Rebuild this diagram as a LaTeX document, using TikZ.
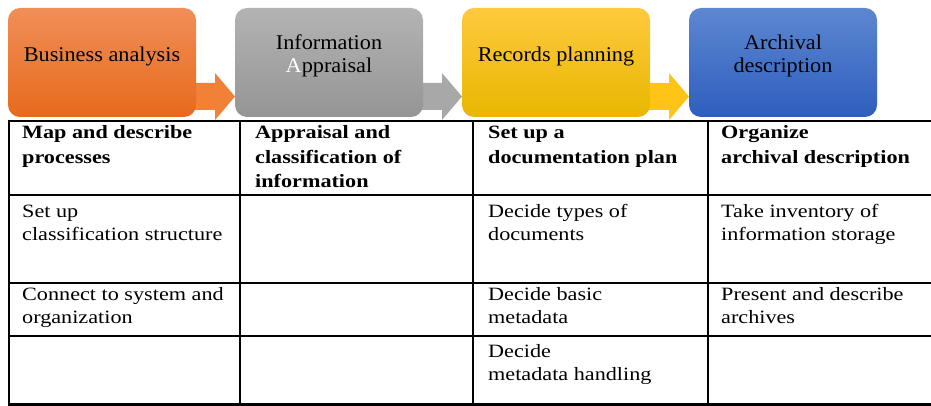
\documentclass[tikz,border=0pt]{standalone}
\usepackage{fontspec}
\setmainfont{Liberation Serif}[FakeStretch=1.18]
\newfontfamily\boxfont{Liberation Serif}[FakeStretch=1.06]
\usetikzlibrary{calc}
\definecolor{orA}{RGB}{241,142,88}
\definecolor{orB}{RGB}{230,106,28}
\definecolor{orArr}{RGB}{242,128,55}
\definecolor{grA}{RGB}{179,179,179}
\definecolor{grB}{RGB}{149,149,149}
\definecolor{grArr}{RGB}{168,168,168}
\definecolor{yeA}{RGB}{255,201,62}
\definecolor{yeB}{RGB}{232,183,0}
\definecolor{yeArr}{RGB}{255,196,22}
\definecolor{blA}{RGB}{93,135,208}
\definecolor{blB}{RGB}{46,94,190}
\newcommand\hcell[1]{\parbox[t]{215pt}{\raggedright\bfseries\fontsize{18.8}{24.5}\selectfont #1}}
\newcommand\bcell[1]{\parbox[t]{215pt}{\raggedright\fontsize{18.8}{23.2}\selectfont #1}}
\newcommand\stwo[1]{\parbox[t]{180pt}{\centering\boxfont\fontsize{21}{23}\selectfont #1}}
\tikzset{
  stage/.style={rounded corners=12pt, minimum width=188pt, minimum height=109pt, inner sep=0pt, draw=none},
  stagetext/.style={anchor=base, inner sep=0pt, font=\boxfont\fontsize{21}{23}\selectfont},
  cell/.style={anchor=base west, inner sep=0pt},
  grid/.style={line width=2.6pt, black},
}
\begin{document}
\begin{tikzpicture}[x=1pt,y=-1pt]
\useasboundingbox (0,0) rectangle (931,406);
% stage box centres
\path (102,62.5) coordinate (c1) (329,62.5) coordinate (c2) (556,62.5) coordinate (c3) (783,62.5) coordinate (c4);
% arrows (behind the boxes)
\foreach \a/\b/\col in {c1/c2/orArr, c2/c3/grArr, c3/c4/yeArr}{
  \fill[\col] ($(\a)+(88,20.5)$) -- ($(\b)+(-114,20.5)$) -- ($(\b)+(-114,10.5)$)
     -- ($(\b)+(-94,34)$) -- ($(\b)+(-114,57.5)$) -- ($(\b)+(-114,47.5)$)
     -- ($(\a)+(88,47.5)$) -- cycle;
}
\node[stage, top color=orA, bottom color=orB] (b1) at (c1) {};
\node[stage, top color=grA, bottom color=grB] (b2) at (c2) {};
\node[stage, top color=yeA, bottom color=yeB] (b3) at (c3) {};
\node[stage, top color=blA, bottom color=blB] (b4) at (c4) {};
% stage texts
\node[stagetext] (t1) at (102,62) {Business analysis};
\node[stagetext] (t2) at (329,50) {\stwo{Information\\{\color{white}A}ppraisal}};
\node[stagetext] (t3) at (556,62) {Records planning};
\node[stagetext] (t4) at (783,50) {\stwo{Archival\\description}};
% table grid
\draw[grid] (9,121) -- (931,121);
\draw[grid] (9,195) -- (931,195);
\draw[grid] (9,283) -- (931,283);
\draw[grid] (9,336) -- (931,336);
\draw[grid] (9,404.7) -- (931,404.7);
\foreach \x in {9,240,473,708}{\draw[grid] (\x,120) -- (\x,406);}
% header cells
\node[cell] (h1) at (22,139) {\hcell{Map and describe\\processes}};
\node[cell] (h2) at (255,139) {\hcell{Appraisal and\\classification of\\information}};
\node[cell] (h3) at (488,139) {\hcell{Set up a\\documentation plan}};
\node[cell] (h4) at (721,139) {\hcell{Organize\\archival description}};
% body cells
\node[cell] (r1c1) at (22,217) {\bcell{Set up\\classification structure}};
\node[cell] (r1c3) at (488,217) {\bcell{Decide types of\\documents}};
\node[cell] (r1c4) at (721,217) {\bcell{Take inventory of\\information storage}};
\node[cell] (r2c1) at (22,300) {\bcell{Connect to system and\\organization}};
\node[cell] (r2c3) at (488,300) {\bcell{Decide basic\\metadata}};
\node[cell] (r2c4) at (721,300) {\bcell{Present and describe\\archives}};
\node[cell] (r3c3) at (488,357) {\bcell{Decide\\metadata handling}};
\end{tikzpicture}
\end{document}
